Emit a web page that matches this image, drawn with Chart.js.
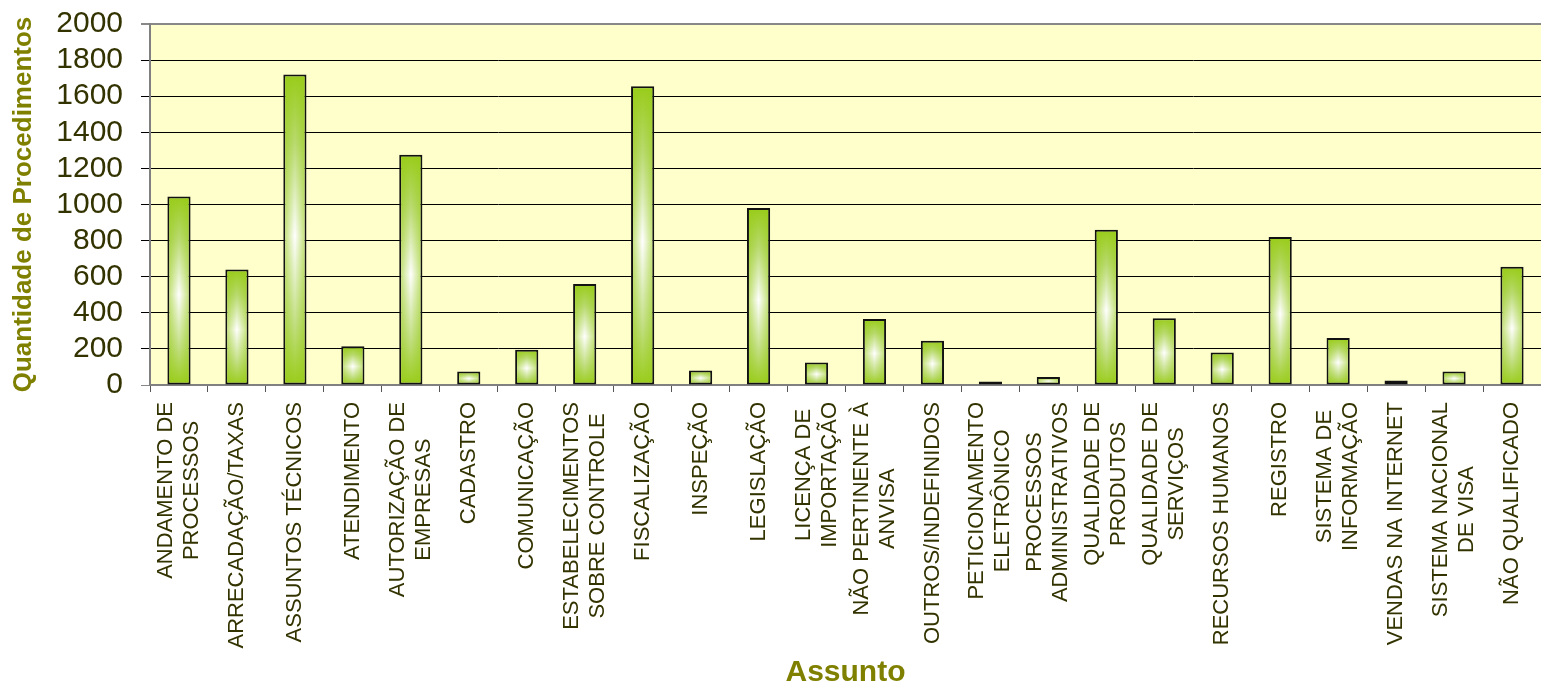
<!DOCTYPE html>
<html lang="pt-BR">
<head>
<meta charset="UTF-8">
<title>Procedimentos por Assunto</title>
<script src="https://cdn.jsdelivr.net/npm/chart.js@4/dist/chart.umd.min.js"></script>
<style>
    html, body { margin: 0; padding: 0; background: #ffffff; }
    #wrap { width: 1541px; height: 688px; position: relative; }
</style>
</head>
<body>
<div id="wrap"><canvas id="grafico"></canvas></div>
<script>
// categorias (quebras de linha como no original)
const assuntos = [
    ['ANDAMENTO DE', 'PROCESSOS'],
    'ARRECADAÇÃO/TAXAS',
    'ASSUNTOS TÉCNICOS',
    'ATENDIMENTO',
    ['AUTORIZAÇÃO DE', 'EMPRESAS'],
    'CADASTRO',
    'COMUNICAÇÃO',
    ['ESTABELECIMENTOS', 'SOBRE CONTROLE'],
    'FISCALIZAÇÃO',
    'INSPEÇÃO',
    'LEGISLAÇÃO',
    ['LICENÇA DE', 'IMPORTAÇÃO'],
    ['NÃO PERTINENTE À', 'ANVISA'],
    'OUTROS/INDEFINIDOS',
    ['PETICIONAMENTO', 'ELETRÔNICO'],
    ['PROCESSOS', 'ADMINISTRATIVOS'],
    ['QUALIDADE DE', 'PRODUTOS'],
    ['QUALIDADE DE', 'SERVIÇOS'],
    'RECURSOS HUMANOS',
    'REGISTRO',
    ['SISTEMA DE', 'INFORMAÇÃO'],
    'VENDAS NA INTERNET',
    ['SISTEMA NACIONAL', 'DE VISA'],
    'NÃO QUALIFICADO'
];

// quantidade de procedimentos por assunto
const procedimentos = [
    1045, 640, 1720, 215, 1275, 75, 195, 560, 1655, 80, 980, 125,
    365, 245, 20, 45, 860, 370, 180, 820, 260, 25, 75, 655
];

const yMin = 0;
const yMax = 2000;
const yPasso = 200;

const verde = '#99cc1a';
const oliva = '#808000';
const textoEscuro = '#333300';
const fonte = '"Liberation Sans", Arial, sans-serif';

// fundo amarelo da área do gráfico
const fundoPlot = {
    id: 'fundoPlot',
    beforeDraw(chart) {
        const { ctx, chartArea: a } = chart;
        ctx.save();
        ctx.fillStyle = '#ffffcc';
        ctx.fillRect(a.left, a.top, a.right - a.left, a.bottom - a.top);
        ctx.restore();
    }
};

// brilho horizontal nas barras (centro claro, bordas verdes)
const brilhoBarras = {
    id: 'brilhoBarras',
    afterDatasetsDraw(chart) {
        const ctx = chart.ctx;
        const meta = chart.getDatasetMeta(0);
        ctx.save();
        meta.data.forEach(bar => {
            const { x, y, base, width } = bar.getProps(['x', 'y', 'base', 'width'], true);
            const esq = x - width / 2 + 2;
            const dir = x + width / 2 - 2;
            const alto = base - y - 4;
            if (alto <= 0) return;
            const g = ctx.createLinearGradient(esq, 0, dir, 0);
            g.addColorStop(0, 'rgba(153,204,26,0.55)');
            g.addColorStop(0.5, 'rgba(153,204,26,0)');
            g.addColorStop(1, 'rgba(153,204,26,0.55)');
            ctx.fillStyle = g;
            ctx.fillRect(esq, y + 2, dir - esq, alto);
        });
        ctx.restore();
    }
};

// rótulos verticais com linhas centralizadas
const rotulosX = {
    id: 'rotulosX',
    afterDraw(chart) {
        const ctx = chart.ctx;
        const xs = chart.scales.x;
        ctx.save();
        ctx.font = '22px ' + fonte;
        ctx.fillStyle = textoEscuro;
        ctx.textAlign = 'center';
        ctx.textBaseline = 'middle';
        assuntos.forEach((rotulo, i) => {
            const linhas = Array.isArray(rotulo) ? rotulo : [rotulo];
            const larg = Math.max(...linhas.map(l => ctx.measureText(l).width));
            const px = xs.getPixelForValue(i);
            const topo = xs.top + 17;
            linhas.forEach((linha, j) => {
                ctx.save();
                ctx.translate(px + (j - (linhas.length - 1) / 2) * 26, topo + larg / 2);
                ctx.rotate(-Math.PI / 2);
                ctx.fillText(linha, 0, 0);
                ctx.restore();
            });
        });
        ctx.restore();
    }
};

new Chart(document.getElementById('grafico'), {
    type: 'bar',
    data: {
        labels: assuntos,
        datasets: [{
            label: 'Quantidade de Procedimentos',
            data: procedimentos,
            backgroundColor: (c) => {
                const chart = c.chart;
                if (!chart.chartArea || c.raw === undefined) return verde;
                const ys = chart.scales.y;
                const topo = ys.getPixelForValue(c.raw);
                const base = ys.getPixelForValue(0);
                if (base - topo < 1) return verde;
                const g = chart.ctx.createLinearGradient(0, topo, 0, base);
                g.addColorStop(0, '#99cc1a');
                g.addColorStop(0.22, '#b9da70');
                g.addColorStop(0.52, '#ffffff');
                g.addColorStop(0.8, '#c3df85');
                g.addColorStop(1, '#99cc1a');
                return g;
            },
            borderColor: '#111111',
            borderWidth: 2,
            borderSkipped: false,
            barPercentage: 0.4,
            categoryPercentage: 1
        }]
    },
    options: {
        responsive: true,
        maintainAspectRatio: false,
        animation: false,
        layout: { padding: { top: 24, right: 0, bottom: 0, left: 0 } },
        plugins: {
            legend: { display: false },
            tooltip: { enabled: false }
        },
        scales: {
            x: {
                offset: true,
                afterFit: (s) => { s.height = 303; },
                ticks: { display: false },
                grid: {
                    offset: true,
                    drawOnChartArea: false,
                    drawTicks: true,
                    tickLength: 7,
                    color: '#555555'
                },
                border: { color: '#808080', width: 2 },
                title: {
                    display: true,
                    text: 'Assunto',
                    color: oliva,
                    font: { family: fonte, size: 30, weight: 'bold', lineHeight: 1 },
                    padding: { top: 0, bottom: 0 }
                }
            },
            y: {
                min: yMin,
                max: yMax,
                afterFit: (s) => {
                    s.width = 150;
                    s.paddingTop = 0;
                    s.paddingBottom = 0;
                },
                ticks: {
                    stepSize: yPasso,
                    autoSkip: false,
                    color: textoEscuro,
                    font: { family: fonte, size: 30 },
                    padding: 18,
                    callback: (v) => String(v)
                },
                grid: {
                    color: (c) => (c.tick && (c.tick.value === yMax || c.tick.value === yMin)) ? '#888888' : '#000000',
                    lineWidth: (c) => (c.tick && c.tick.value === yMax) ? 2 : 1,
                    tickLength: 9
                },
                border: { color: '#808080', width: 2 },
                title: {
                    display: true,
                    text: 'Quantidade de Procedimentos',
                    color: oliva,
                    font: { family: fonte, size: 26, weight: 'bold' },
                    padding: { top: 8, bottom: 0 }
                }
            }
        }
    },
    plugins: [fundoPlot, brilhoBarras, rotulosX]
});
</script>
</body>
</html>
